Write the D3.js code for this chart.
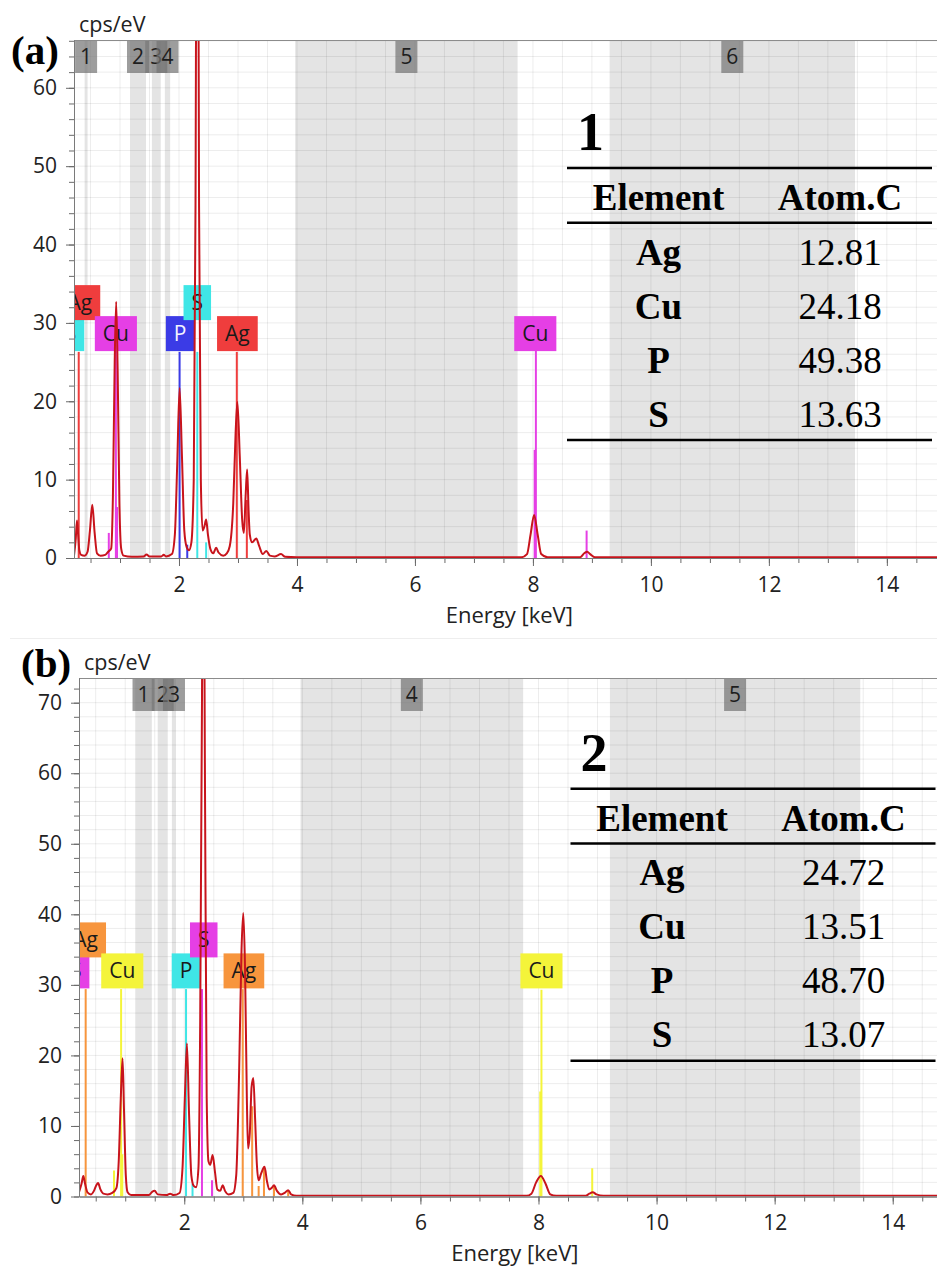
<!DOCTYPE html>
<html>
<head>
<meta charset="utf-8">
<script src="https://cdn.jsdelivr.net/npm/d3@7"></script>
<style>
  body { margin: 0; background: #fff; }
  svg { display: block; }
</style>
</head>
<body>
<svg id="chart" width="937" height="1268"></svg>
<script>
var xTicks = [2, 4, 6, 8, 10, 12, 14]
var yTicksA = [0, 10, 20, 30, 40, 50, 60]
var yTicksB = [0, 10, 20, 30, 40, 50, 60, 70]

// spectrum (a): [energy keV, cps/eV]
var spectrumA = [
    [0.22, 0.3], [0.25, 2.5], [0.27, 4.8], [0.29, 3.0], [0.31, 1.0], [0.34, 0.4], [0.40, 0.3],
    [0.45, 0.8], [0.49, 3.5], [0.53, 6.8], [0.57, 3.2], [0.61, 0.6], [0.67, 0.3], [0.75, 0.4],
    [0.80, 0.8], [0.85, 1.2], [0.88, 8], [0.91, 25], [0.935, 32.7], [0.96, 24], [0.99, 7],
    [1.02, 1.2], [1.06, 0.3], [1.20, 0.15], [1.40, 0.2], [1.45, 0.45], [1.50, 0.2], [1.70, 0.2],
    [1.74, 0.4], [1.78, 0.2], [1.88, 0.5], [1.93, 3], [1.97, 12], [2.01, 21.7], [2.05, 13],
    [2.09, 3.5], [2.13, 1.4], [2.17, 1.0], [2.21, 2], [2.25, 10], [2.28, 45], [2.31, 120],
    [2.34, 45], [2.37, 10], [2.40, 3.5], [2.43, 4.0], [2.46, 4.9], [2.49, 3], [2.53, 1.2],
    [2.58, 0.6], [2.63, 1.3], [2.67, 0.7], [2.75, 0.3], [2.81, 0.6], [2.86, 1.5], [2.92, 7],
    [2.96, 16], [2.99, 19.9], [3.03, 13], [3.07, 5], [3.10, 3.2], [3.13, 8], [3.155, 11.3],
    [3.18, 6], [3.20, 3.0], [3.24, 2.0], [3.31, 2.5], [3.36, 1.5], [3.42, 0.5], [3.48, 0.9],
    [3.54, 0.3], [3.62, 0.2], [3.73, 0.5], [3.80, 0.15], [4.0, 0.1], [7.80, 0.1], [7.90, 0.5],
    [7.96, 3], [8.02, 5.5], [8.08, 3.0], [8.14, 0.5], [8.25, 0.1], [8.80, 0.1], [8.87, 0.6],
    [8.92, 0.8], [8.97, 0.5], [9.05, 0.1], [14.9, 0.1]
]

// spectrum (b)
var spectrumB = [
    [0.22, 0.7], [0.26, 1.8], [0.29, 2.9], [0.32, 1.8], [0.36, 0.6], [0.42, 0.3], [0.47, 0.8],
    [0.51, 1.6], [0.54, 1.9], [0.58, 1.0], [0.63, 0.4], [0.70, 0.3], [0.78, 0.5], [0.85, 1.2],
    [0.89, 5], [0.925, 14], [0.955, 19.6], [0.98, 12], [1.01, 3], [1.04, 0.6], [1.10, 0.2],
    [1.40, 0.2], [1.46, 0.7], [1.50, 0.8], [1.55, 0.3], [1.70, 0.2], [1.76, 0.4], [1.82, 0.2],
    [1.92, 0.5], [1.97, 4], [2.01, 14], [2.045, 21.7], [2.08, 12], [2.12, 3], [2.16, 1.5],
    [2.20, 1.3], [2.24, 4], [2.27, 25], [2.30, 70], [2.32, 110], [2.35, 60], [2.38, 14],
    [2.41, 5], [2.44, 4.5], [2.48, 5.9], [2.52, 3.5], [2.56, 1.0], [2.61, 0.8], [2.65, 1.6],
    [2.69, 0.8], [2.75, 0.3], [2.83, 0.5], [2.88, 3], [2.93, 18], [2.97, 35], [3.00, 40.2],
    [3.03, 32], [3.06, 14], [3.08, 6.8], [3.11, 9], [3.14, 15.5], [3.17, 16.8], [3.20, 11],
    [3.23, 4.5], [3.26, 2.3], [3.30, 3.2], [3.36, 4.2], [3.40, 2.2], [3.44, 1.0], [3.48, 1.2],
    [3.52, 1.6], [3.57, 0.8], [3.64, 0.3], [3.70, 0.5], [3.76, 0.9], [3.81, 0.3], [3.90, 0.1],
    [7.80, 0.1], [7.88, 0.4], [7.96, 2], [8.04, 2.9], [8.12, 1.8], [8.20, 0.3], [8.30, 0.1],
    [8.80, 0.1], [8.86, 0.4], [8.92, 0.6], [8.98, 0.3], [9.10, 0.1], [14.9, 0.1]
]

// shaded integration regions: [from keV, to keV, name]
var regionsA = [[0.40, 0.45, "1"], [1.17, 1.44, "2"], [1.54, 1.69, "3"], [1.76, 1.85, "4"],
    [3.97, 7.74, "5"], [9.30, 13.46, "6"]]
var regionsB = [[1.17, 1.45, "1"], [1.55, 1.72, "2"], [1.79, 1.86, "3"],
    [3.97, 7.74, "4"], [9.21, 13.45, "5"]]

// element lines: [element, keV, height cps/eV]
var linesA = [["Ag", 0.30, 26.3], ["Cu", 0.81, 3.2], ["Cu", 0.93, 26.5], ["Cu", 0.95, 6.5],
    ["P", 2.01, 26.3], ["P", 2.14, 1.7], ["S", 2.31, 26.3], ["S", 2.46, 2.0],
    ["Ag", 2.98, 26.3], ["Ag", 3.15, 7.4], ["Cu", 8.03, 13.8], ["Cu", 8.05, 26.5], ["Cu", 8.91, 3.5]]
var linesB = [["Ag", 0.33, 29.4], ["Cu", 0.81, 3.7], ["Cu", 0.93, 29.4], ["Cu", 0.95, 6],
    ["P", 2.03, 29.4], ["P", 2.14, 1.8], ["S", 2.30, 29.4], ["S", 2.47, 2.3],
    ["Ag", 2.99, 29.4], ["Ag", 3.15, 12.8], ["Ag", 3.26, 1.5], ["Ag", 3.35, 4.2], ["Ag", 3.52, 1.5],
    ["Ag", 3.76, 0.8], ["Cu", 8.03, 14.9], ["Cu", 8.05, 29.3], ["Cu", 8.91, 4.0]]

// element labels: [element, keV, row]
var labelsA = [["S", 0.16, 0], ["Ag", 0.32, 1], ["Cu", 0.93, 0], ["P", 2.02, 0], ["S", 2.31, 1],
    ["Ag", 2.99, 0], ["Cu", 8.04, 0]]
var labelsB = [["S", 0.16, 0], ["Ag", 0.33, 1], ["Cu", 0.95, 0], ["P", 2.03, 0], ["S", 2.33, 1],
    ["Ag", 3.01, 0], ["Cu", 8.05, 0]]

var tableElements = ["Ag", "Cu", "P", "S"]
var atomA = ["12.81", "24.18", "49.38", "13.63"]
var atomB = ["24.72", "13.51", "48.70", "13.07"]

var colorsA = { Ag: "#ef3d3d", Cu: "#e53fe5", P: "#3b3be6", S: "#3fe6e6" }
var colorsB = { Ag: "#f7953d", Cu: "#f4f43a", P: "#3fe6e6", S: "#e53fe5" }
var textOnLabel = { P: "#f2f2ff" }

var sans = "'Open Sans', sans-serif"
var serif = "'Liberation Serif', 'Times New Roman', serif"

var svg = d3.select("#chart")
var defs = svg.append("defs")

// faint separator between panels
svg.append("line")
    .attr("x1", 10).attr("x2", 937).attr("y1", 638.5).attr("y2", 638.5)
    .attr("stroke", "#eeeeee")

var panels = [
    {
        id: "a", spectrum: spectrumA, regions: regionsA, lines: linesA, labels: labelsA,
        colors: colorsA, yTicks: yTicksA, atom: atomA, tableNo: "1", tag: "(a)",
        left: 74, right: 937, top: 40, bottom: 558, xDomain: [0.22, 14.85], yMax: 66.1,
        labelLevel: 26.4, tagX: 11, tagY: 64, tableTop: 168, tableDx: 0, labelTextColor: true
    },
    {
        id: "b", spectrum: spectrumB, regions: regionsB, lines: linesB, labels: labelsB,
        colors: colorsB, yTicks: yTicksB, atom: atomB, tableNo: "2", tag: "(b)",
        left: 79, right: 937, top: 678, bottom: 1196.5, xDomain: [0.217, 14.75], yMax: 73.5,
        labelLevel: 29.5, tagX: 21, tagY: 677, tableTop: 788.7, tableDx: 3.5, labelTextColor: false
    }
]

panels.forEach(drawPanel)

function drawPanel(p) {
    var x = d3.scaleLinear().domain(p.xDomain).range([p.left, p.right])
    var y = d3.scaleLinear().domain([0, p.yMax]).range([p.bottom, p.top])

    var clipId = "clip-" + p.id
    defs.append("clipPath").attr("id", clipId)
        .append("rect")
        .attr("x", p.left).attr("y", p.top)
        .attr("width", p.right - p.left).attr("height", p.bottom - p.top)

    var g = svg.append("g")
    var plot = g.append("g").attr("clip-path", "url(#" + clipId + ")")

    // shaded regions
    plot.selectAll("rect.region")
        .data(p.regions)
        .enter()
        .append("rect")
        .attr("class", "region")
        .attr("x", function (d) { return x(d[0]) })
        .attr("width", function (d) { return x(d[1]) - x(d[0]) })
        .attr("y", p.top)
        .attr("height", p.bottom - p.top)
        .attr("fill", "#e4e4e4")

    // grid
    plot.selectAll("line.vgrid")
        .data(d3.range(0.5, 15.01, 0.5))
        .enter()
        .append("line")
        .attr("x1", function (d) { return x(d) })
        .attr("x2", function (d) { return x(d) })
        .attr("y1", p.top).attr("y2", p.bottom)
        .attr("stroke", "#000").attr("stroke-opacity", 0.075)

    plot.selectAll("line.hgrid")
        .data(d3.range(2, p.yMax, 2))
        .enter()
        .append("line")
        .attr("x1", p.left).attr("x2", p.right)
        .attr("y1", function (d) { return y(d) })
        .attr("y2", function (d) { return y(d) })
        .attr("stroke", "#000").attr("stroke-opacity", 0.075)

    // region name tags
    var tags = plot.selectAll("g.rtag")
        .data(p.regions)
        .enter()
        .append("g")
    tags.append("rect")
        .attr("x", function (d) { return x((d[0] + d[1]) / 2) - 11 })
        .attr("y", p.top)
        .attr("width", 22).attr("height", 33)
        .attr("fill", "#747474").attr("fill-opacity", 0.7)
    tags.append("text")
        .attr("x", function (d) { return x((d[0] + d[1]) / 2) })
        .attr("y", p.top + 24)
        .attr("text-anchor", "middle")
        .style("font", "21px " + sans)
        .attr("fill", "#1e1e1e")
        .text(function (d) { return d[2] })

    // element line markers
    plot.selectAll("line.marker")
        .data(p.lines)
        .enter()
        .append("line")
        .attr("x1", function (d) { return x(d[1]) })
        .attr("x2", function (d) { return x(d[1]) })
        .attr("y1", y(0))
        .attr("y2", function (d) { return y(d[2]) })
        .attr("stroke", function (d) { return p.colors[d[0]] })
        .attr("stroke-width", 2)

    // element labels
    var labelBottom = y(p.labelLevel)
    var labs = plot.selectAll("g.elabel")
        .data(p.labels)
        .enter()
        .append("g")
    labs.each(function (d) {
        var lg = d3.select(this)
        var cx = x(d[1])
        var bottom = labelBottom - d[2] * 31
        var t = lg.append("text")
            .attr("x", cx)
            .attr("y", bottom - 10.5)
            .attr("text-anchor", "middle")
            .style("font", "21px " + sans)
            .attr("fill", p.labelTextColor && textOnLabel[d[0]] ? textOnLabel[d[0]] : "#1a1a1a")
            .text(d[0])
        var w = t.node().getComputedTextLength() + 16
        lg.insert("rect", "text")
            .attr("x", cx - w / 2)
            .attr("y", bottom - 35)
            .attr("width", w)
            .attr("height", 35)
            .attr("fill", p.colors[d[0]])
    })

    // spectrum
    var line = d3.line()
        .x(function (d) { return x(d[0]) })
        .y(function (d) { return y(d[1]) })
        .curve(d3.curveMonotoneX)

    plot.append("path")
        .attr("d", line(p.spectrum))
        .attr("fill", "none")
        .attr("stroke", "#c8141c")
        .attr("stroke-width", 2)

    // top border
    g.append("line")
        .attr("x1", p.left).attr("x2", p.right)
        .attr("y1", p.top + 0.5).attr("y2", p.top + 0.5)
        .attr("stroke", "#8c8c8c")

    // axes
    var xMinor = d3.range(0.5, 15, 0.5).filter(function (v) { return v > p.xDomain[0] && v < p.xDomain[1] })
    var xAxisMinor = d3.axisBottom(x).tickValues(xMinor).tickSize(5).tickSizeOuter(0).tickFormat("")
    var xAxis = d3.axisBottom(x).tickValues(xTicks).tickSize(8).tickSizeOuter(0).tickPadding(11)
        .tickFormat(function (d) { return d })

    var yMinor = d3.range(0, p.yMax, 2)
    var yAxisMinor = d3.axisLeft(y).tickValues(yMinor).tickSize(5).tickSizeOuter(0).tickFormat("")
    var yAxis = d3.axisLeft(y).tickValues(p.yTicks).tickSize(8).tickSizeOuter(0).tickPadding(9)

    ;[xAxisMinor, xAxis].forEach(function (ax) {
        g.append("g")
            .attr("transform", "translate(0," + p.bottom + ")")
            .call(ax)
            .call(styleAxis)
    })
    ;[yAxisMinor, yAxis].forEach(function (ax) {
        g.append("g")
            .attr("transform", "translate(" + p.left + ",0)")
            .call(ax)
            .call(styleAxis)
    })

    g.append("text")
        .attr("x", x(7.6))
        .attr("y", p.bottom + 64.5)
        .attr("text-anchor", "middle")
        .style("font", "22px " + sans)
        .attr("fill", "#222")
        .text("Energy [keV]")

    g.append("text")
        .attr("x", p.left + 5)
        .attr("y", p.top - 8)
        .style("font", "21.5px " + sans)
        .attr("fill", "#222")
        .text("cps/eV")

    g.append("text")
        .attr("x", p.tagX)
        .attr("y", p.tagY)
        .style("font", "bold 41px " + serif)
        .attr("fill", "#000")
        .text(p.tag)

    drawTable(g, p)
}

function styleAxis(sel) {
    sel.select(".domain").attr("stroke", "#7a7a7a")
    sel.selectAll(".tick line").attr("stroke", "#6a6a6a")
    sel.selectAll(".tick text")
        .style("font", "21px " + sans)
        .attr("fill", "#222")
}

function drawTable(g, p) {
    var top = p.tableTop
    var dx = p.tableDx
    var xl = 567 + dx, xr = 932 + dx
    var colEl = 658.5 + dx, colVal = 840 + dx

    g.append("text")
        .attr("x", 577 + dx)
        .attr("y", top - 18)
        .style("font", "bold 54px " + serif)
        .text(p.tableNo)

    ;[top, top + 54.7, top + 272].forEach(function (ly) {
        g.append("line")
            .attr("x1", xl).attr("x2", xr)
            .attr("y1", ly).attr("y2", ly)
            .attr("stroke", "#000").attr("stroke-width", 2.5)
    })

    g.append("text")
        .attr("x", colEl).attr("y", top + 42)
        .attr("text-anchor", "middle")
        .style("font", "bold 37px " + serif)
        .text("Element")
    g.append("text")
        .attr("x", colVal).attr("y", top + 42)
        .attr("text-anchor", "middle")
        .style("font", "bold 37px " + serif)
        .text("Atom.C")

    tableElements.forEach(function (el, i) {
        var by = top + 96.7 + i * 54
        g.append("text")
            .attr("x", colEl).attr("y", by)
            .attr("text-anchor", "middle")
            .style("font", "bold 37px " + serif)
            .text(el)
        g.append("text")
            .attr("x", colVal).attr("y", by)
            .attr("text-anchor", "middle")
            .style("font", "37px " + serif)
            .text(p.atom[i])
    })
}
</script>
</body>
</html>
